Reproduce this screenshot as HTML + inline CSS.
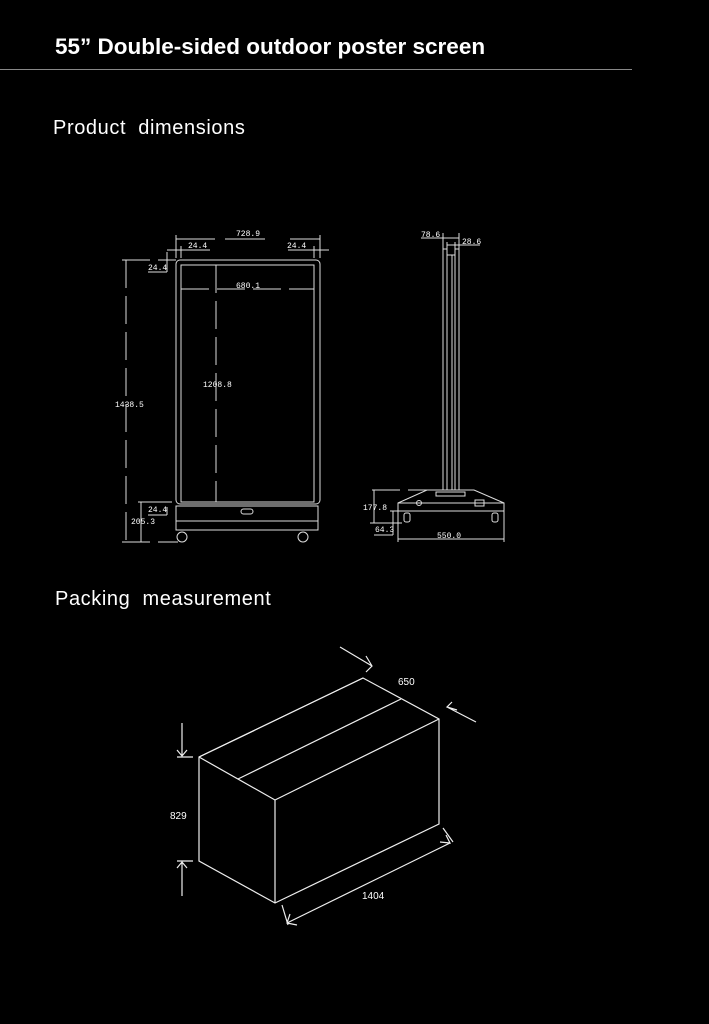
<!DOCTYPE html>
<html><head><style>
body{margin:0;background:#000;width:709px;height:1024px;overflow:hidden;position:relative;font-family:"Liberation Sans",sans-serif;color:#fff}
.t{position:absolute;white-space:nowrap}
</style></head><body>
<div class="t" style="left:55px;top:34px;font-size:22.5px;font-weight:bold">55” Double-sided outdoor poster screen</div>
<div style="position:absolute;left:0;top:69px;width:632px;height:1px;background:#888"></div>
<div class="t" style="left:53px;top:117px;font-size:20px;word-spacing:6px;letter-spacing:0.6px">Product dimensions</div>
<div class="t" style="left:55px;top:588px;font-size:20px;word-spacing:6px;letter-spacing:0.6px">Packing measurement</div>
<svg width="709" height="1024" style="position:absolute;left:0;top:0" fill="none" stroke="#fff" stroke-width="1">
<g font-family="Liberation Mono,monospace" font-size="8" fill="#fff" stroke="none">
<text x="236" y="236">728.9</text><text x="188" y="248">24.4</text><text x="287" y="248">24.4</text>
<text x="148" y="270">24.4</text><text x="236" y="288">680.1</text><text x="203" y="387">1208.8</text>
<text x="115" y="407">1438.5</text><text x="148" y="512">24.4</text><text x="131" y="524">205.3</text>
<text x="421" y="237">78.6</text><text x="462" y="244">28.6</text><text x="363" y="510">177.8</text>
<text x="375" y="532">64.3</text><text x="437" y="538">550.0</text>
</g>
<g stroke-width="1" stroke="#ddd">
<rect x="176" y="260" width="144" height="244" rx="4"/>
<rect x="181" y="265" width="133" height="237"/>
<rect x="176" y="506" width="142" height="24"/><line x1="176" y1="521" x2="318" y2="521"/>
<rect x="241" y="509" width="12" height="5" rx="2.5"/>
<circle cx="182" cy="537" r="5"/><circle cx="303" cy="537" r="5"/>
<line x1="176" y1="239" x2="215" y2="239"/><line x1="225" y1="239" x2="265" y2="239"/><line x1="290" y1="239" x2="320" y2="239"/>
<line x1="176" y1="235" x2="176" y2="258"/><line x1="320" y1="235" x2="320" y2="258"/><line x1="181" y1="246" x2="181" y2="258"/><line x1="314" y1="246" x2="314" y2="258"/>
<line x1="167" y1="250" x2="210" y2="250"/><line x1="288" y1="250" x2="329" y2="250"/>
<line x1="148" y1="272" x2="167" y2="272"/><line x1="167" y1="252" x2="167" y2="272"/>
<g stroke-dasharray="28,8">
<line x1="126" y1="260" x2="126" y2="542"/><line x1="122" y1="260" x2="176" y2="260"/><line x1="122" y1="542" x2="178" y2="542"/>
<line x1="181" y1="289" x2="314" y2="289"/><line x1="216" y1="265" x2="216" y2="502"/>
<line x1="372" y1="490" x2="427" y2="490"/>
</g>
<line x1="148" y1="515" x2="167" y2="515"/><line x1="167" y1="507" x2="167" y2="515"/><line x1="138" y1="502" x2="172" y2="502"/><line x1="141" y1="502" x2="141" y2="542"/>
<line x1="443" y1="249" x2="443" y2="490"/><line x1="447" y1="249" x2="447" y2="490"/><line x1="452" y1="255" x2="452" y2="490"/><line x1="455" y1="249" x2="455" y2="490"/><line x1="459" y1="249" x2="459" y2="490"/>
<line x1="443" y1="249" x2="447" y2="249"/><line x1="455" y1="249" x2="459" y2="249"/><line x1="447" y1="255" x2="455" y2="255"/>
<line x1="421" y1="238" x2="459" y2="238"/><line x1="443" y1="233" x2="443" y2="249"/><line x1="459" y1="233" x2="459" y2="249"/>
<line x1="447" y1="245" x2="480" y2="245"/><line x1="447" y1="242" x2="447" y2="249"/><line x1="455" y1="242" x2="455" y2="249"/>
<path d="M427 490 H474 L504 503 V511 H398 V503 Z"/><line x1="398" y1="503" x2="504" y2="503"/>
<rect x="436" y="492" width="29" height="4"/><circle cx="419" cy="503" r="2.5"/><rect x="475" y="500" width="9" height="6"/>
<rect x="404" y="513" width="6" height="9" rx="2"/><rect x="492" y="513" width="6" height="9" rx="2"/>
<line x1="374" y1="490" x2="374" y2="523"/><line x1="370" y1="523" x2="402" y2="523"/><line x1="393" y1="511" x2="393" y2="535"/><line x1="374" y1="535" x2="393" y2="535"/><line x1="390" y1="511" x2="398" y2="511"/>
<line x1="398" y1="539" x2="504" y2="539"/><line x1="398" y1="511" x2="398" y2="542"/><line x1="504" y1="511" x2="504" y2="542"/>
</g>
<g stroke="#eee" stroke-width="1.2">
<path d="M363 678 L439 719 L439 824 L275 903 L199 861 L199 757 Z"/>
<path d="M199 757 L363 678"/><path d="M199 757 L275 800 L439 719"/><path d="M275 800 L275 903"/>
<path d="M401 699 L238 779"/>
<path d="M340 647 L372 666 M366 656 L372 666 L366 672"/>
<path d="M476 722 L447 707 M452 702 L447 707 L457 710"/>
<path d="M182 723 L182 756 M177 750 L182 756 L187 750 M177 757 L193 757"/>
<path d="M182 896 L182 862 M177 868 L182 862 L187 868 M177 861 L193 861"/>
<path d="M287 923 L450 843 M282 905 L288 925 M443 828 L453 842 M290 914 L287 923 L297 925 M440 842 L450 843 L446 835"/>
</g>
<g font-family="Liberation Sans,sans-serif" font-size="10" fill="#fff" stroke="none">
<text x="398" y="685">650</text><text x="170" y="819">829</text><text x="362" y="899">1404</text>
</g>
</svg>
</body></html>
